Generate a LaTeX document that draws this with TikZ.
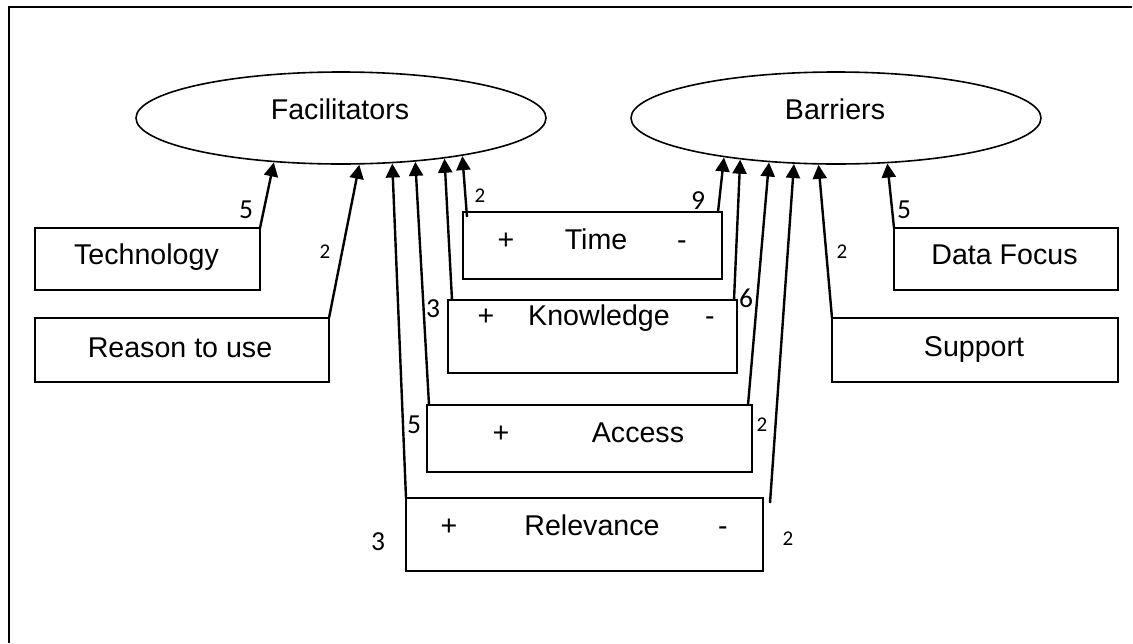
\documentclass[tikz,border=0pt]{standalone}
\usepackage{fontspec}
\setmainfont{Liberation Sans}
\newfontfamily\numfont{Carlito}
\usetikzlibrary{arrows.meta,positioning,shapes.geometric}

\begin{document}
\begin{tikzpicture}[x=1pt, y=-1pt, shorten >=1pt, >={Triangle[length=14pt,width=14pt]},
    every node/.style={inner sep=0pt, outer sep=0pt},
    oval/.style={draw, ellipse, line width=1.6pt, minimum width=410pt, minimum height=92pt},
    box/.style={draw, rectangle, line width=2pt},
    word/.style={anchor=base, font=\fontsize{28.6}{34}\selectfont},
    big num/.style={anchor=base, font=\numfont\fontsize{27.5}{32}\selectfont},
    small num/.style={anchor=base, font=\numfont\fontsize{21}{24}\selectfont},
    link/.style={->, line width=2.4pt}]
    \useasboundingbox (0,0) rectangle (1133,643);
    % frame, cut off at the right and bottom
    \draw[line width=2.4pt] (9,643) -- (9,7) -- (1133,7);

    \node[oval] (Fac) at (341,118) {};
    \node[oval] (Bar) at (836,118) {};
    \node[word] (Factext) at (340,119.5) {Facilitators};
    \node[word] (Bartext) at (835,119.5) {Barriers};

    % factor boxes
    \node[box, minimum width=225pt, minimum height=62pt] (Tech) at (147.5,259) {};
    \node[box, minimum width=294pt, minimum height=64pt] (Reason) at (182,350) {};
    \node[box, minimum width=259pt, minimum height=67pt] (Time) at (592.5,245.5) {};
    \node[box, minimum width=289pt, minimum height=73pt] (Know) at (592.5,336.5) {};
    \node[box, minimum width=325pt, minimum height=67pt] (Acc) at (589.5,438.5) {};
    \node[box, minimum width=357pt, minimum height=73pt] (Rel) at (584.5,534.5) {};
    \node[box, minimum width=224pt, minimum height=62pt] (Data) at (1006,259) {};
    \node[box, minimum width=286pt, minimum height=64pt] (Sup) at (975,350) {};

    \node[word] (Techtext) at (146.5,264) {Technology};
    \node[word] (Reasontext) at (180,357) {Reason to use};
    \node[word] (Datatext) at (1004.5,264) {Data Focus};
    \node[word] (Suptext) at (974,356) {Support};

    \node[word] (Timeplus) at (506,249) {+};
    \node[word] (Timetext) at (596,249) {Time};
    \node[word] (Timeminus) at (682,249) {-};
    \node[word] (Knowplus) at (486,325) {+};
    \node[word] (Knowtext) at (599,325) {Knowledge};
    \node[word] (Knowminus) at (710,325) {-};
    \node[word] (Accplus) at (501,442) {+};
    \node[word] (Acctext) at (638,442) {Access};
    \node[word] (Relplus) at (449,535) {+};
    \node[word] (Reltext) at (592,535) {Relevance};
    \node[word] (Relminus) at (723,535) {-};

    % arrows to Facilitators
    \draw[link] (Tech.north east) -- (Fac.-147.5);
    \draw[link] (Reason.north east) -- (Fac.-68.5);
    \draw[link] (Rel.north west) -- (Fac.-41.2);
    \draw[link] ([xshift=2pt]Acc.north west) -- (Fac.-30.1);
    \draw[link] ([xshift=4pt]Know.north west) -- (Fac.-21.1);
    \draw[link] ([shift={(4,5)}]Time.north west) -- (Fac.-17.3);

    % arrows to Barriers
    \coordinate (Relend) at (770,503);
    \draw[link] ([xshift=-4pt]Time.north east) -- (Bar.-161.4);
    \draw[link] ([xshift=-3pt]Know.north east) -- (Bar.-157);
    \draw[link] ([xshift=-4pt]Acc.north east) -- (Bar.-147);
    \draw[link] (Relend) -- (Bar.-133.7);
    \draw[link] (Sup.north west) -- (Bar.-111.5);
    \draw[link] (Data.north west) -- (Bar.-41.7);

    % counts
    \node[big num] (nTech) at (246,218) {5};
    \node[small num] (nReason) at (325,258) {2};
    \node[big num] (nRelL) at (378,550) {3};
    \node[big num] (nAccL) at (414,433) {5};
    \node[big num] (nKnowL) at (433,317) {3};
    \node[small num] (nTimeL) at (480,202) {2};
    \node[big num] (nTimeR) at (698,209) {9};
    \node[big num] (nKnowR) at (746,307) {6};
    \node[small num] (nAccR) at (762,431) {2};
    \node[small num] (nRelR) at (788,545) {2};
    \node[small num] (nSup) at (842,258) {2};
    \node[big num] (nData) at (904,218) {5};
\end{tikzpicture}
\end{document}
